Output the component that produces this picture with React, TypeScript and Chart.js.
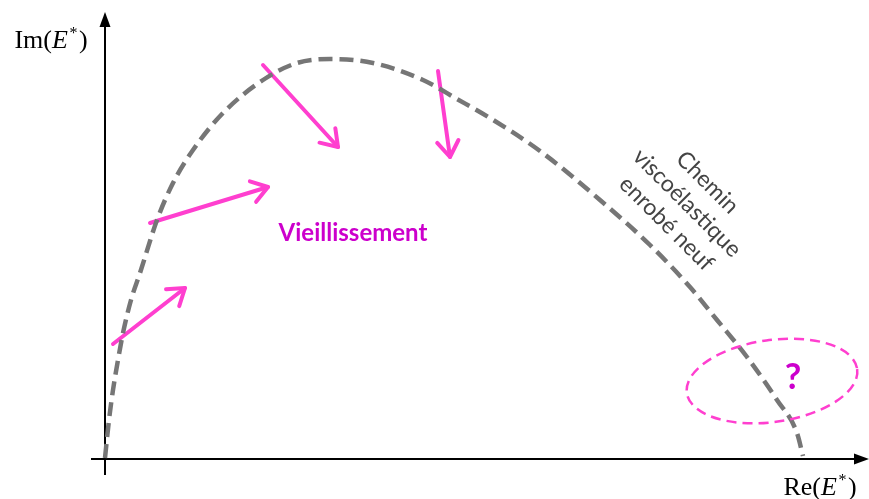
import React, { useEffect, useRef } from "react";
import { Chart, registerables } from "chart.js";

Chart.register(...registerables);

// Re(E*) / Im(E*) values of the dashed viscoelastic path (arbitrary units)
const curveRe = [0, 4, 8, 13, 18, 26, 35, 52, 68, 88, 118, 158, 192, 225, 268, 318, 352, 385, 435, 495, 545, 585, 612, 642, 672, 692, 698];
const curveIm = [1, 39, 69, 99, 126, 159, 186, 239, 276, 309, 346, 379, 396, 400, 396, 379, 360, 341, 308, 259, 214, 172, 139, 102, 59, 26, 3];

// Ageing arrows: [startRe, startIm, endRe, endIm]
const arrowStartRe = [8, 45, 158, 333];
const arrowStartIm = [115, 236, 394, 388];
const arrowEndRe = [80, 163, 233, 345];
const arrowEndIm = [171, 272, 312, 302];

// Axis extents
const axisRe = [-14, 764];
const axisIm = [-16, 447];

// Uncertainty ellipse: center, radii, tilt (deg)
const ellipseCenter = [667, 78];
const ellipseRadius = [86, 41];
const ellipseTilt = -8;

// Labels
const labelTexts = ["Vieillissement", "?", "Im(E*)", "Re(E*)"];
const labelRe = [248, 688, -54, 715];
const labelIm = [226, 82, 419, -28];
const pathLabelLines = ["Chemin", "viscoélastique", "enrobé neuf"];
const pathLabelCenter = [582, 256];

const PINK = "#ff3fcf";
const MAGENTA = "#cc00cc";
const GRAY = "#767676";

const decorPlugin = {
  id: "decor",
  beforeDatasetsDraw(chart: any) {
    const { ctx, scales } = chart;
    const xs = scales.x, ys = scales.y;
    const px = (v: number) => xs.getPixelForValue(v);
    const py = (v: number) => ys.getPixelForValue(v);
    ctx.save();
    ctx.strokeStyle = "#000";
    ctx.fillStyle = "#000";
    ctx.lineWidth = 2;
    const x0 = px(0), y0 = py(0);
    const xEnd = px(axisRe[1]);
    ctx.beginPath();
    ctx.moveTo(px(axisRe[0]), y0);
    ctx.lineTo(xEnd - 8, y0);
    ctx.stroke();
    ctx.beginPath();
    ctx.moveTo(xEnd, y0);
    ctx.lineTo(xEnd - 15, y0 - 5.5);
    ctx.lineTo(xEnd - 15, y0 + 5.5);
    ctx.closePath();
    ctx.fill();
    const yEnd = py(axisIm[1]);
    ctx.beginPath();
    ctx.moveTo(x0, py(axisIm[0]));
    ctx.lineTo(x0, yEnd + 8);
    ctx.stroke();
    ctx.beginPath();
    ctx.moveTo(x0, yEnd);
    ctx.lineTo(x0 - 5.5, yEnd + 15);
    ctx.lineTo(x0 + 5.5, yEnd + 15);
    ctx.closePath();
    ctx.fill();
    ctx.restore();
  },
  afterDatasetsDraw(chart: any) {
    const { ctx, scales } = chart;
    const xs = scales.x, ys = scales.y;
    const px = (v: number) => xs.getPixelForValue(v);
    const py = (v: number) => ys.getPixelForValue(v);
    ctx.save();
    ctx.strokeStyle = PINK;
    ctx.lineWidth = 4;
    ctx.lineCap = "round";
    ctx.lineJoin = "round";
    for (let i = 0; i < arrowStartRe.length; i++) {
      const sx = px(arrowStartRe[i]), sy = py(arrowStartIm[i]);
      const ex = px(arrowEndRe[i]), ey = py(arrowEndIm[i]);
      const a = Math.atan2(ey - sy, ex - sx);
      const L = 19, spread = 0.6;
      ctx.beginPath();
      ctx.moveTo(ex - L * Math.cos(a - spread), ey - L * Math.sin(a - spread));
      ctx.lineTo(ex, ey);
      ctx.lineTo(ex - L * Math.cos(a + spread), ey - L * Math.sin(a + spread));
      ctx.stroke();
    }
    ctx.setLineDash([10, 6]);
    ctx.lineWidth = 2.5;
    ctx.lineCap = "butt";
    const cx = px(ellipseCenter[0]), cy = py(ellipseCenter[1]);
    const rx = px(ellipseCenter[0] + ellipseRadius[0]) - cx;
    const ry = cy - py(ellipseCenter[1] + ellipseRadius[1]);
    ctx.beginPath();
    ctx.ellipse(cx, cy, rx, ry, (ellipseTilt * Math.PI) / 180, 0, Math.PI * 2);
    ctx.stroke();
    ctx.setLineDash([]);
    ctx.textAlign = "center";
    ctx.textBaseline = "middle";
    ctx.fillStyle = MAGENTA;
    ctx.font = "bold 24px Lato, 'Noto Sans', sans-serif";
    ctx.fillText(labelTexts[0], px(labelRe[0]), py(labelIm[0]));
    ctx.font = "bold 36px Lato, 'Noto Sans', sans-serif";
    ctx.fillText(labelTexts[1], px(labelRe[1]), py(labelIm[1]));
    ctx.fillStyle = "#000";
    const drawMath = (prefix: string, cxp: number, cyp: number) => {
      const f1 = "26px 'Liberation Serif', serif";
      const f2 = "italic 26px 'Liberation Serif', serif";
      const f3 = "16px 'Liberation Serif', serif";
      ctx.font = f1;
      const w1 = ctx.measureText(prefix + "(").width;
      ctx.font = f2;
      const w2 = ctx.measureText("E").width + 1.5;
      ctx.font = f3;
      const w3 = ctx.measureText("*").width + 1.5;
      ctx.font = f1;
      const w4 = ctx.measureText(")").width;
      const total = w1 + w2 + w3 + w4;
      let x = cxp - total / 2;
      ctx.textAlign = "left";
      ctx.textBaseline = "alphabetic";
      const base = cyp + 8;
      ctx.font = f1;
      ctx.fillText(prefix + "(", x, base);
      x += w1;
      ctx.font = f2;
      ctx.fillText("E", x, base);
      x += w2;
      ctx.font = f3;
      ctx.fillText("*", x, base - 10);
      x += w3;
      ctx.font = f1;
      ctx.fillText(")", x, base);
    };
    drawMath("Im", px(labelRe[2]), py(labelIm[2]));
    drawMath("Re", px(labelRe[3]), py(labelIm[3]));
    ctx.save();
    ctx.translate(px(pathLabelCenter[0]), py(pathLabelCenter[1]));
    ctx.rotate((45 * Math.PI) / 180);
    ctx.fillStyle = "#444";
    ctx.font = "23px Lato, 'Noto Sans', sans-serif";
    ctx.textAlign = "center";
    ctx.textBaseline = "middle";
    const lh = 29;
    pathLabelLines.forEach((t, i) => {
      ctx.fillText(t, 0, (i - 1) * lh);
    });
    ctx.restore();
    ctx.restore();
  },
};

export default function App() {
  const ref = useRef<HTMLCanvasElement | null>(null);
  useEffect(() => {
    if (!ref.current) return;
    const curve = curveRe.map((x, i) => ({ x, y: curveIm[i] }));
    const arrowSets = arrowStartRe.map((_, i) => ({
      type: "line" as const,
      data: [
        { x: arrowStartRe[i], y: arrowStartIm[i] },
        { x: arrowEndRe[i], y: arrowEndIm[i] },
      ],
      borderColor: PINK,
      borderWidth: 4,
      pointRadius: 0,
      borderCapStyle: "round" as const,
      tension: 0,
    }));
    const chart = new Chart(ref.current, {
      type: "scatter",
      data: {
        datasets: [
          {
            type: "line",
            data: curve,
            borderColor: GRAY,
            borderWidth: 4.5,
            borderDash: [14, 7],
            pointRadius: 0,
            cubicInterpolationMode: "monotone",
            fill: false,
          } as any,
          ...arrowSets,
        ],
      },
      options: {
        animation: false,
        responsive: false,
        maintainAspectRatio: false,
        layout: { padding: 0 },
        plugins: { legend: { display: false }, tooltip: { enabled: false } },
        scales: {
          x: { type: "linear", min: -105, max: 764, display: false },
          y: { type: "linear", min: -40, max: 459, display: false },
        },
      },
      plugins: [decorPlugin],
    });
    return () => chart.destroy();
  }, []);
  return (
    <div style={{ position: "absolute", left: 0, top: 0, width: 869, height: 499, background: "#fff" }}>
      <canvas ref={ref} width={869} height={499} style={{ width: 869, height: 499, display: "block" }} />
    </div>
  );
}
